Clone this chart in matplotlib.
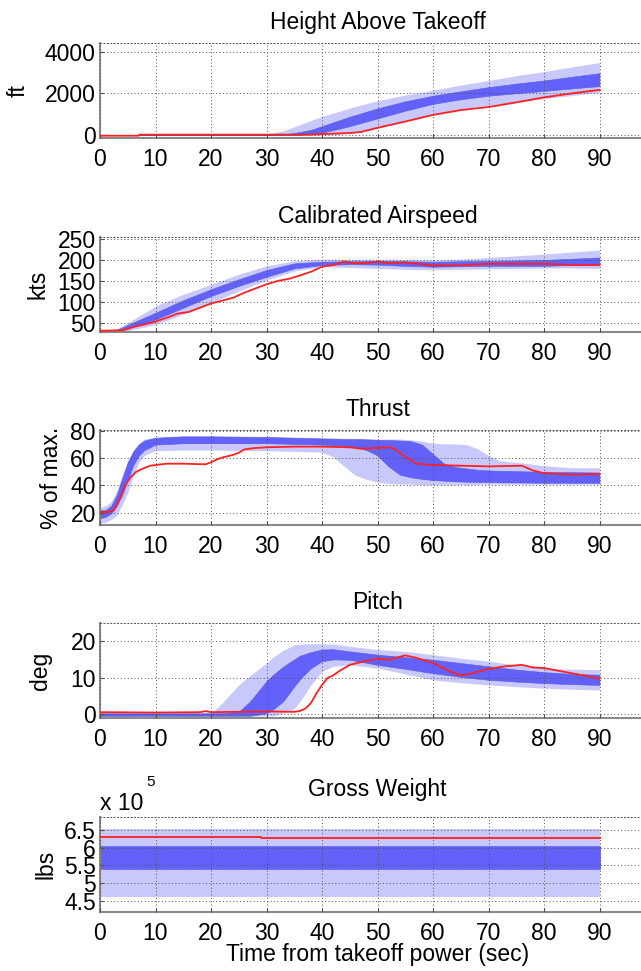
import matplotlib
matplotlib.use("Agg")
import matplotlib.pyplot as plt

plt.rcParams['font.family'] = ['Liberation Sans', 'DejaVu Sans']

LIGHT = '#c8c8fa'
DARK = '#6262fa'
RED = '#ff2020'

# --- height above takeoff (ft) ---
h_t = [0, 10, 20, 25, 28, 30, 33, 35, 38, 40, 43, 45, 50, 55, 60, 65, 70, 75, 80, 85, 90]
h_light_hi = [0, 0, 0, 0, 10, 60, 200, 400, 700, 900, 1130, 1300, 1650, 1920, 2150, 2400, 2620, 2850, 3050, 3270, 3480]
h_dark_hi = [0, 0, 0, 0, 0, 0, 30, 100, 250, 430, 700, 880, 1280, 1620, 1890, 2100, 2300, 2470, 2620, 2800, 2970]
h_dark_lo = [0, 0, 0, 0, 0, 0, 0, 0, 50, 120, 300, 430, 800, 1170, 1500, 1720, 1890, 2010, 2120, 2240, 2350]
h_light_lo = [0, 0, 0, 0, 0, 0, 0, 0, 0, 0, 30, 90, 350, 680, 1020, 1250, 1430, 1600, 1750, 1900, 2050]
h_red_t = [0, 7, 7.1, 38, 40, 45, 47, 50, 55, 60, 65, 70, 75, 80, 85, 90]
h_red = [-30, -30, 20, 20, 50, 100, 150, 350, 650, 970, 1200, 1350, 1570, 1810, 2000, 2170]

# --- calibrated airspeed (kts) ---
v_t = [0, 3, 5, 10, 15, 20, 25, 30, 35, 40, 45, 50, 55, 60, 65, 70, 75, 80, 85, 90]
v_light_hi = [30, 36, 50, 90, 118, 142, 166, 186, 198, 202, 202, 202, 201, 200, 202, 206, 210, 214, 219, 224]
v_dark_hi = [30, 33, 45, 74, 104, 130, 154, 176, 192, 196, 197, 198, 197, 196, 197, 198, 199, 200, 203, 206]
v_dark_lo = [28, 29, 36, 58, 86, 114, 138, 160, 180, 188, 190, 189, 186, 184, 185, 186, 186, 186, 188, 190]
v_light_lo = [28, 28, 31, 46, 70, 98, 126, 152, 174, 184, 182, 180, 178, 177, 178, 179, 180, 181, 181, 180]
v_red_t = [0, 4, 6, 8, 10, 12, 14, 16, 18, 20, 22, 24, 26, 28, 30, 32, 34, 36, 38, 40,
           42, 44, 46, 48, 50, 52, 55, 58, 60, 63, 66, 70, 75, 80, 85, 90]
v_red = [31, 32, 40, 46, 53, 62, 72, 76, 86, 96, 103, 110, 122, 132, 142, 150, 155, 163, 172, 184,
         188, 196, 192, 193, 196, 193, 194, 190, 187, 187, 188, 191, 191, 191, 188, 188]

# --- thrust (% of max) ---
th_t = [0, 1, 2, 3, 4, 5, 6, 7, 8, 10, 15, 20, 30, 40, 42, 44, 46, 48, 50, 52, 54, 56,
        58, 60, 62, 64, 66, 68, 70, 72, 75, 80, 85, 90]
th_light_hi = [24, 25, 28, 36, 48, 58, 66, 71, 74, 75.5, 76.5, 76.5, 76, 75, 75, 74.5, 74.5, 74.3, 74, 74, 74, 73.5,
               72.5, 71, 70.5, 70.5, 70, 67, 62, 58, 57, 54.5, 53, 53]
th_dark_hi = [22, 22, 25, 33, 45, 57, 65, 70, 73, 75, 76, 76, 75.5, 74.5, 74.3, 74, 74, 73.8, 73.5, 73.3, 73, 72.5,
              70, 63, 56, 53.5, 52.5, 51.5, 51, 50.8, 50.5, 50, 49.8, 49.5]
th_dark_lo = [16, 17, 19.5, 25, 33, 44, 55, 62, 66, 70, 71, 71, 71, 70, 69.5, 69, 68, 66, 62, 54, 48, 46,
              44.8, 44, 43.5, 43, 42.8, 42.6, 42.5, 42.3, 42.2, 42, 42, 42]
th_light_lo = [12.5, 13, 15, 18, 26, 35, 47, 57, 62, 65.5, 66, 66, 65.5, 64.5, 61, 54, 47.5, 44.5, 42.5, 41.5, 41, 41,
               40.5, 40.5, 40.5, 40.5, 40.7, 40.8, 41, 41, 41, 41, 41, 41]
th_red_t = [0, 1.5, 2.5, 3.5, 4.5, 5.5, 6.5, 7.5, 9, 12, 15, 19, 20, 21, 22, 23, 24, 25, 26, 28,
            30, 35, 40, 45, 47, 50, 52, 53, 55, 57, 60, 65, 70, 76, 78, 80, 85, 90]
th_red = [20.5, 20.5, 22, 30, 40, 46, 50, 52, 54.5, 56, 56, 55.5, 57, 59, 60.5, 61.5, 62.5, 64, 66.5, 67.5,
          68, 68.5, 68.5, 68, 67, 67.5, 68, 67, 61, 56, 55, 54.5, 54, 54.5, 51, 49, 48, 48.5]

# --- pitch (deg) ---
p_t = [0, 10, 20, 22, 25, 27, 30, 31, 33, 34, 35, 36, 38, 40, 42, 45, 50, 55, 60, 65, 70, 75, 80, 85, 90]
p_light_hi = [0, 0, 0.2, 3, 8, 10.5, 14, 15.4, 17.5, 18.2, 19, 19.2, 19.3, 19.3, 19.2, 18.6, 17.7, 17.2, 16.3,
              15.3, 14.5, 13.5, 12.6, 12.3, 12.2]
p_dark_hi = [0.2, 0.2, 0.2, 0.2, 0.6, 3.4, 9, 10.5, 13, 14, 15, 16, 17, 17.7, 17.8, 17.2, 16.3, 15.6, 14.9,
             14, 13.1, 12.2, 11.5, 11, 10.8]
p_dark_lo = [-0.5, -0.5, -0.5, -0.5, -0.5, -0.5, 0.2, 1, 3.5, 5.5, 7.6, 9.5, 12.6, 14.5, 15, 14.9, 13.5, 12.4,
             11.2, 10.2, 9.4, 8.9, 8.5, 8.2, 8]
p_light_lo = [-0.6, -0.6, -0.6, -0.6, -0.6, -0.6, -0.5, -0.5, 0.2, 0.8, 1.5, 3.4, 8, 11.7, 13.1, 13.5, 12.6,
              11, 9.4, 8.6, 8, 7.5, 7.1, 6.8, 6.6]
p_red_t = [0, 10, 18, 19, 20, 30, 35, 36, 37, 38, 39, 40, 41, 42, 43, 45, 48, 50, 52, 55, 57, 60,
           63, 65, 67, 70, 73, 76, 78, 80, 85, 90]
p_red = [0.5, 0.4, 0.5, 0.8, 0.5, 0.7, 0.6, 0.8, 1.5, 3, 5.7, 8, 9.9, 10.6, 11.7, 13.5, 14.6, 15.2, 14.9, 16.1, 15.4, 14,
         11.7, 10.6, 11.2, 12.4, 13.1, 13.5, 12.8, 12.6, 11.2, 9.7]

# --- gross weight (lbs) ---
w_t = [0, 90]
w_light_hi = [652000, 652000]
w_dark_hi = [604000, 604000]
w_dark_lo = [541000, 541000]
w_light_lo = [461000, 461000]
w_red_t = [0, 29, 29, 90]
w_red = [630000, 630000, 627000, 627000]

xticks = [0, 10, 20, 30, 40, 50, 60, 70, 80, 90]

panels = [
    dict(title='Height Above Takeoff', ylabel='ft', ylim=(-140, 4420), yticks=[0, 2000, 4000],
         t=h_t, bands=(h_light_lo, h_light_hi, h_dark_lo, h_dark_hi), rt=h_red_t, r=h_red, scale=1),
    dict(title='Calibrated Airspeed', ylabel='kts', ylim=(28, 255), yticks=[50, 100, 150, 200, 250],
         t=v_t, bands=(v_light_lo, v_light_hi, v_dark_lo, v_dark_hi), rt=v_red_t, r=v_red, scale=1),
    dict(title='Thrust', ylabel='% of max.', ylim=(11, 80.7), yticks=[20, 40, 60, 80],
         t=th_t, bands=(th_light_lo, th_light_hi, th_dark_lo, th_dark_hi), rt=th_red_t, r=th_red, scale=1),
    dict(title='Pitch', ylabel='deg', ylim=(-1.1, 25), yticks=[0, 10, 20],
         t=p_t, bands=(p_light_lo, p_light_hi, p_dark_lo, p_dark_hi), rt=p_red_t, r=p_red, scale=1),
    dict(title='Gross Weight', ylabel='lbs', ylim=(4.18, 6.87), yticks=[4.5, 5, 5.5, 6, 6.5],
         t=w_t, bands=(w_light_lo, w_light_hi, w_dark_lo, w_dark_hi), rt=w_red_t, r=w_red, scale=1e5),
]

fig = plt.figure(figsize=(6.41, 9.71), dpi=100)
W = 641.0
H = 971.0
tops = [43, 237, 430, 623, 817]
label_x = [30, 49, 63, 52, 57]   # right edge of each y label, px
left = 100 / W
width = 555 / W
ax_h = 95 / H
FS = 16.5

for i, p in enumerate(panels):
    bottom = 1 - (tops[i] + 95) / H
    ax = fig.add_axes([left, bottom, width, ax_h])
    s = p['scale']
    llo, lhi, dlo, dhi = [[v / s for v in b] for b in p['bands']]
    ax.fill_between(p['t'], llo, lhi, color=LIGHT, linewidth=0, zorder=1)
    ax.fill_between(p['t'], dlo, dhi, color=DARK, edgecolor='#5a5ad8', linewidth=0.4, zorder=2)
    ax.plot(p['rt'], [v / s for v in p['r']], color=RED, linewidth=1.3, zorder=3)

    ax.set_xlim(0, 100)
    ax.set_ylim(*p['ylim'])
    ax.set_xticks(xticks + [100])
    ax.set_xticklabels([str(x) for x in xticks] + [''])
    ax.set_yticks(p['yticks'])
    if i == 4:
        ax.set_yticklabels(['4.5', '5', '5.5', '6', '6.5'])
    ax.grid(True, color='#505050', linestyle=(0, (1, 2.5)), linewidth=0.7)
    ax.set_axisbelow(False)
    for side in ('left', 'bottom'):
        ax.spines[side].set_color('#8a8a8a')
        ax.spines[side].set_linewidth(1.5)
    ax.spines['right'].set_visible(False)
    ax.spines['top'].set_color('#505050')
    ax.spines['top'].set_linestyle((0, (1, 2.5)))
    ax.spines['top'].set_linewidth(0.7)
    ax.tick_params(direction='in', length=3, width=0.8, color='#505050',
                   labelsize=FS, pad=3, top=False, right=False)
    ax.tick_params(axis='x', pad=7)
    ax.set_ylabel(p['ylabel'], fontsize=FS)
    ax.yaxis.set_label_coords((label_x[i] - 100) / 555.0, 0.5)
    pad = 15 if i == 4 else 10
    ax.set_title(p['title'], fontsize=FS, pad=pad)
    if i == 4:
        ax.set_xlabel('Time from takeoff power (sec)', fontsize=FS, labelpad=-1)
        fig.text(100 / W, 1 - 810 / H, 'x 10', fontsize=FS, ha='left', va='baseline')
        fig.text(146 / W, 1 - 786 / H, '5', fontsize=11, ha='left', va='baseline')

fig.savefig('out.png', dpi=100)
